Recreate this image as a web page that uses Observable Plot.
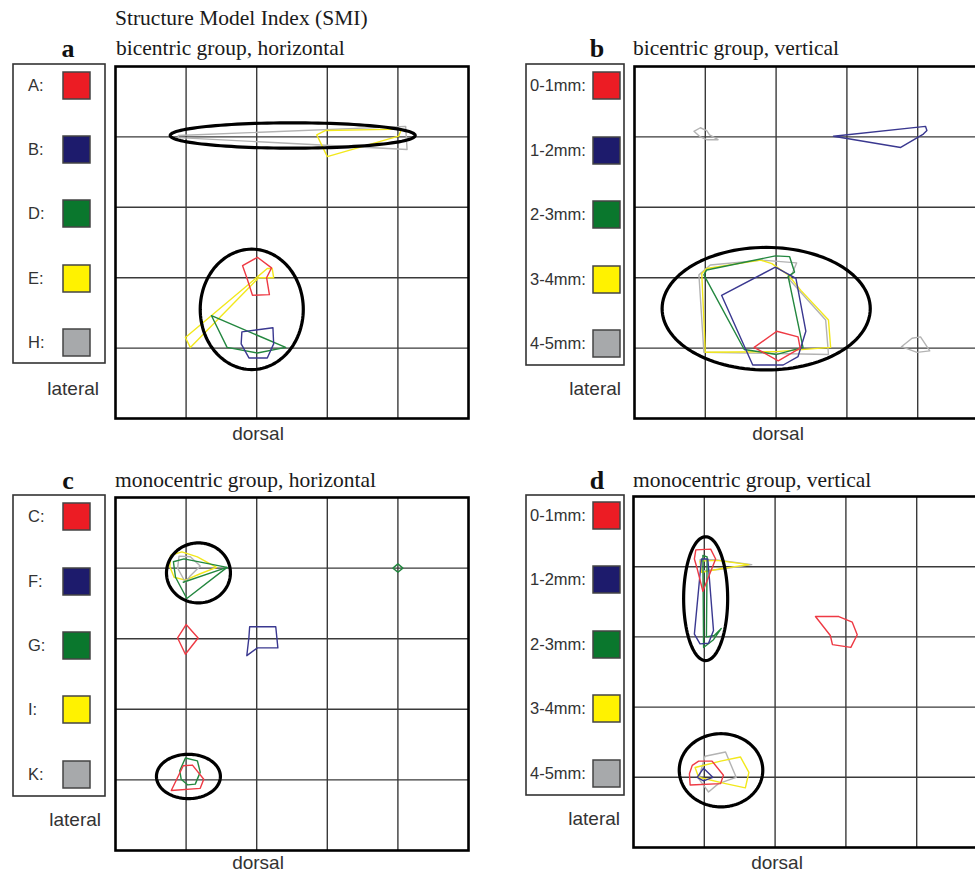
<!DOCTYPE html>
<html><head><meta charset="utf-8">
<script src="https://cdn.jsdelivr.net/npm/d3@7"></script>
<script src="https://cdn.jsdelivr.net/npm/@observablehq/plot@0.6"></script>
<style>
html,body{margin:0;padding:0;background:#fff;overflow:hidden;width:975px;height:872px}
#fig{position:relative;width:975px;height:872px;overflow:hidden;background:#fff}
#fig svg{position:absolute}
</style></head><body><div id="fig"></div>
<script>
// ---------- DATA (grid units: x 0..5 left→right, y 0..5 top→bottom) ----------
const gridTicks = [1, 2, 3, 4];

const figureTitle = "Structure Model Index (SMI)";
const panelLetters = ["a", "b", "c", "d"];
const panelTitles = ["bicentric group, horizontal", "bicentric group, vertical",
                     "monocentric group, horizontal", "monocentric group, vertical"];
const legendLabelsA = ["A:", "B:", "D:", "E:", "H:"];
const legendLabelsB = ["0-1mm:", "1-2mm:", "2-3mm:", "3-4mm:", "4-5mm:"];
const legendLabelsC = ["C:", "F:", "G:", "I:", "K:"];
const legendLabelsD = ["0-1mm:", "1-2mm:", "2-3mm:", "3-4mm:", "4-5mm:"];
const legendKeys = ["red", "blue", "green", "yellow", "gray"];
const axisLabelLeft = "lateral";
const axisLabelBottom = "dorsal";

// panel a
const aGray = [[0.89,0.98],[4.11,0.85],[4.13,1.18],[0.89,1.01]];
const aYellowTop = [[2.85,0.97],[2.97,0.91],[4.05,0.89],[4.01,0.99],[3.0,1.28]];
const aYellowLow = [[0.99,3.85],[2.15,2.87],[2.22,2.87],[2.24,3.0],[2.03,3.0],[1.06,3.99]];
const aGreen = [[1.36,3.54],[2.41,3.99],[2.01,4.07],[1.58,3.99]];
const aBlue = [[1.79,3.77],[2.23,3.71],[2.24,3.94],[2.15,4.14],[1.89,4.14],[1.78,3.94]];
const aRed = [[1.80,2.83],[2.01,2.71],[2.21,2.86],[2.14,3.0],[2.18,3.24],[1.94,3.25],[1.86,3.0]];
const aEllipses = [[2.51,0.98,1.735,0.18],[1.93,3.45,0.73,0.855]]; // cx, cy, rx, ry

// panel b
const bGrayTop = [[0.84,0.92],[0.93,0.87],[1.02,0.91],[1.06,0.97],[1.18,1.04],[1.02,1.04],[0.93,1.0]];
const bBlueTop = [[2.81,0.99],[4.11,0.85],[4.13,0.91],[4.08,0.96],[3.76,1.15]];
const bGrayRight = [[3.77,3.98],[3.92,3.86],[4.04,3.84],[4.17,4.04],[3.99,4.06]];
const bGray = [[0.91,2.96],[1.07,2.82],[1.80,2.75],[2.29,2.79],[2.19,3.03],[2.70,3.60],[2.74,4.09],[0.98,4.06]];
const bYellow = [[0.95,2.94],[1.02,2.87],[1.78,2.75],[1.94,2.80],[2.17,2.96],[2.35,3.18],[2.74,3.60],[2.77,3.99],[2.0,4.05],[1.0,4.06]];
const bGreen = [[0.98,2.96],[1.02,2.89],[1.99,2.69],[2.19,2.70],[2.26,2.92],[2.17,2.98],[2.38,3.99],[2.01,4.09],[1.55,4.02]];
const bBlue = [[1.23,3.25],[1.99,2.85],[2.28,3.01],[2.42,3.76],[2.31,4.12],[2.10,4.24],[1.67,4.24]];
const bRed = [[1.69,3.99],[2.01,3.76],[2.31,3.84],[2.34,4.0],[2.03,4.18]];
const bEllipses = [[1.86,3.44,1.47,0.87]];

// panel c
const cYellow = [[0.78,0.82],[0.94,0.77],[1.16,0.84],[1.43,0.99],[1.20,1.08],[0.99,1.17],[0.83,1.13],[0.77,0.98]];
const cGray = [[0.90,0.83],[1.06,0.84],[1.20,0.97],[1.05,1.12],[0.99,1.20],[0.88,1.0]];
const cGreen = [[0.82,0.91],[0.97,0.87],[1.58,0.99],[1.01,1.43],[0.85,1.13]];
const cGreenLine = [[0.96,1.20],[1.58,0.99]];
const cGreenDot = [[3.93,1.0],[4.0,0.94],[4.07,1.0],[4.0,1.06]];
const cRedMid = [[0.88,1.99],[1.0,1.80],[1.17,1.99],[0.99,2.22]];
const cBlue = [[1.90,1.83],[2.27,1.83],[2.30,2.13],[2.01,2.13],[1.86,2.24],[1.89,1.98]];
const cRedLow = [[0.79,4.15],[0.96,3.80],[1.09,3.79],[1.25,3.99],[1.20,4.12]];
const cGreenLow = [[0.99,3.69],[1.16,3.73],[1.20,3.89],[1.13,4.06],[1.02,4.07],[0.93,3.99],[0.91,3.87]];
const cEllipses = [[1.175,1.068,0.453,0.425],[1.033,3.951,0.453,0.314]];

// panel d
const dRedRight = [[2.57,1.71],[2.90,1.71],[3.09,1.79],[3.16,1.97],[3.07,2.15],[2.81,2.11],[2.78,1.98]];
const dGrayTop = [[0.94,0.90],[1.15,0.90],[1.67,0.97],[1.20,1.04],[0.96,1.06]];
const dYellowTop = [[0.94,0.92],[1.18,0.91],[1.63,0.97],[1.23,1.03],[0.96,1.08]];
const dGreenTop = [[0.98,0.84],[1.04,0.86],[1.03,2.0],[1.14,1.98],[1.24,1.88],[1.13,2.04],[0.99,2.15]];
const dBlueTop = [[0.96,0.89],[1.05,0.89],[1.13,1.91],[1.06,2.09],[0.94,2.10],[0.86,1.96]];
const dRedTop = [[0.88,0.76],[1.09,0.75],[1.16,0.89],[0.98,1.35],[0.90,1.03],[0.86,0.89]];
const dGrayLow = [[1.01,3.70],[1.30,3.64],[1.45,4.0],[1.20,4.09],[1.06,4.21],[0.92,4.02]];
const dYellowLow = [[0.87,3.86],[1.23,3.77],[1.51,3.71],[1.63,3.93],[1.58,4.15],[1.30,4.09],[0.92,4.0]];
const dRedLow = [[0.83,3.83],[0.92,3.77],[1.11,3.77],[1.27,3.97],[1.23,4.09],[0.80,4.11],[0.79,3.95]];
const dBlueLow = [[0.90,4.0],[0.99,3.87],[1.12,4.0],[0.99,4.05]];
const dEllipses = [[1.019,1.455,0.311,0.882],[1.236,3.9,0.59,0.521]];

// ---------- STYLE ----------
const lineColor = {red:"#ee3a44", blue:"#3a3890", green:"#23873f", yellow:"#f2e81c", gray:"#b3b3b3"};
const swatchColor = {red:"#ec1c24", blue:"#1d1b6c", green:"#0a772d", yellow:"#fff200", gray:"#a7a9ab"};
const serif = "'Liberation Serif','Times New Roman',serif";
const sans = "'Liberation Sans',Arial,sans-serif";

const panels = [
  {left:115, top:66, w:353, h:352, ellipses:aEllipses,
   shapes:[[aGray,"gray"],[aYellowTop,"yellow"],[aYellowLow,"yellow"],[aGreen,"green"],[aBlue,"blue"],[aRed,"red"]], opens:[]},
  {left:634, top:66, w:354, h:352, ellipses:bEllipses,
   shapes:[[bGrayTop,"gray"],[bGrayRight,"gray"],[bBlueTop,"blue"],[bGray,"gray"],[bYellow,"yellow"],[bGreen,"green"],[bBlue,"blue"],[bRed,"red"]], opens:[]},
  {left:115, top:497, w:353, h:353, ellipses:cEllipses,
   shapes:[[cYellow,"yellow"],[cGray,"gray"],[cGreen,"green"],[cGreenDot,"green"],[cRedMid,"red"],[cBlue,"blue"],[cGreenLow,"green"],[cRedLow,"red"]], opens:[[cGreenLine,"green"]]},
  {left:633, top:496, w:354, h:351, ellipses:dEllipses,
   shapes:[[dRedRight,"red"],[dGrayTop,"gray"],[dYellowTop,"yellow"],[dGreenTop,"green"],[dBlueTop,"blue"],[dRedTop,"red"],[dGrayLow,"gray"],[dYellowLow,"yellow"],[dRedLow,"red"],[dBlueLow,"blue"]], opens:[]}
];

const fig = document.getElementById("fig");

function rowsOf(list) {
  const rows = [];
  list.forEach(([pts, c], i) => pts.forEach(([x, y]) => rows.push({id:i, x, y, c:lineColor[c]})));
  return rows;
}
function ellipseRows(list) {
  const rows = [];
  list.forEach(([cx, cy, rx, ry], i) => {
    for (let k = 0; k < 120; k++) {
      const t = k / 120 * 2 * Math.PI;
      rows.push({id:i, x:cx + rx * Math.cos(t), y:cy + ry * Math.sin(t)});
    }
  });
  return rows;
}

panels.forEach(p => {
  const m = 4;
  const svg = Plot.plot({
    width: p.w + 2*m, height: p.h + 2*m, margin: m,
    style: {background:"transparent", overflow:"visible"},
    x: {domain:[0,5], axis:null},
    y: {domain:[0,5], reverse:true, axis:null},
    color: {type:"identity"},
    marks: [
      Plot.ruleX(gridTicks, {stroke:"#3a3a3a", strokeWidth:1.4}),
      Plot.ruleY(gridTicks, {stroke:"#3a3a3a", strokeWidth:1.4}),
      Plot.line(rowsOf(p.shapes), {x:"x", y:"y", z:"id", stroke:"c", curve:"linear-closed", strokeWidth:1.4}),
      Plot.line(rowsOf(p.opens), {x:"x", y:"y", z:"id", stroke:"c", strokeWidth:1.4}),
      Plot.line(ellipseRows(p.ellipses), {x:"x", y:"y", z:"id", curve:"linear-closed", stroke:"#000", strokeWidth:3.2}),
      Plot.frame({stroke:"#000", strokeWidth:2.6})
    ]
  });
  svg.style.left = (p.left - m) + "px";
  svg.style.top = (p.top - m) + "px";
  fig.appendChild(svg);
});

// ---------- annotations: titles, legends, axis words ----------
const ov = d3.create("svg").attr("width", 975).attr("height", 872)
  .style("left", "0px").style("top", "0px");

ov.append("text").attr("x", 115).attr("y", 25).attr("font-family", serif).attr("font-size", 21.5)
  .attr("fill", "#1a1a1a").text(figureTitle);

const annot = [
  {letterX:68, titleX:116, baseY:55, box:[13,64,92,299], labelX:28, swX:63, centers:[85,149,213,278,342], labels:legendLabelsA, latX:99, latY:395, dorX:258, dorY:440},
  {letterX:597, titleX:633, baseY:55, box:[526,64,98,301], labelX:530, swX:593, centers:[85,150,214,279,343], labels:legendLabelsB, latX:621, latY:395, dorX:778, dorY:440},
  {letterX:68, titleX:115, baseY:487, box:[13,495,92,301], labelX:28, swX:63, centers:[516,581,645,709,774], labels:legendLabelsC, latX:101, latY:826, dorX:258, dorY:869},
  {letterX:597, titleX:633, baseY:487, box:[526,495,98,300], labelX:530, swX:593, centers:[515,579,644,708,773], labels:legendLabelsD, latX:620, latY:825, dorX:777, dorY:869}
];

annot.forEach((a, i) => {
  ov.append("text").attr("x", a.letterX).attr("y", a.baseY + 2).attr("text-anchor", "middle")
    .attr("font-family", serif).attr("font-weight", "bold").attr("font-size", 26).attr("fill", "#111")
    .text(panelLetters[i]);
  ov.append("text").attr("x", a.titleX).attr("y", a.baseY).attr("font-family", serif).attr("font-size", 21.5)
    .attr("fill", "#1a1a1a").text(panelTitles[i]);
  ov.append("rect").attr("x", a.box[0]).attr("y", a.box[1]).attr("width", a.box[2]).attr("height", a.box[3])
    .attr("fill", "none").attr("stroke", "#333").attr("stroke-width", 1.6);
  a.labels.forEach((lab, j) => {
    ov.append("text").attr("x", a.labelX).attr("y", a.centers[j] + 6).attr("font-family", sans)
      .attr("font-size", 16.5).attr("fill", "#333").text(lab);
    ov.append("rect").attr("x", a.swX).attr("y", a.centers[j] - 13).attr("width", 27).attr("height", 27)
      .attr("fill", swatchColor[legendKeys[j]]).attr("stroke", "#444").attr("stroke-width", 1.5);
  });
  ov.append("text").attr("x", a.latX).attr("y", a.latY).attr("text-anchor", "end").attr("font-family", sans)
    .attr("font-size", 19).attr("fill", "#333").text(axisLabelLeft);
  ov.append("text").attr("x", a.dorX).attr("y", a.dorY).attr("text-anchor", "middle").attr("font-family", sans)
    .attr("font-size", 19).attr("fill", "#333").text(axisLabelBottom);
});

fig.appendChild(ov.node());
</script></body></html>
